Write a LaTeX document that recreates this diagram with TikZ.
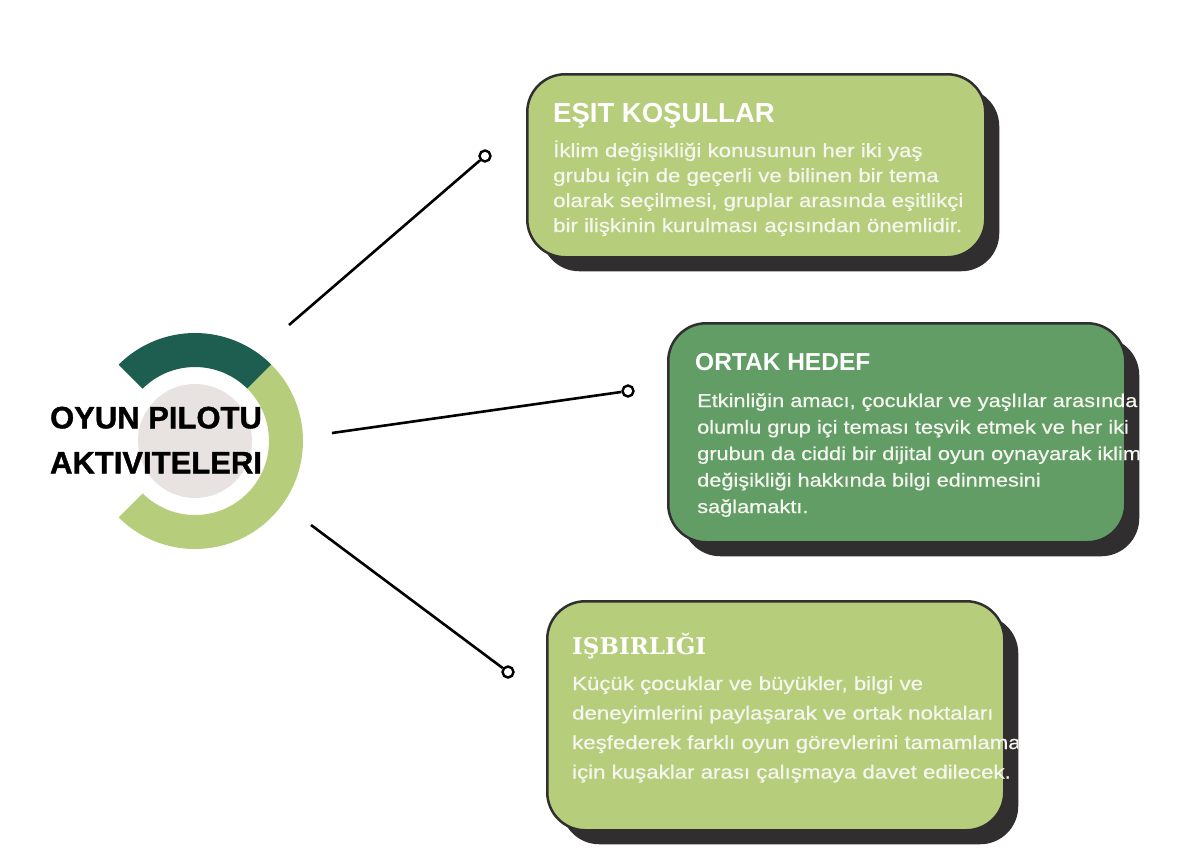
\documentclass[tikz,border=0pt]{standalone}
\usepackage{fontspec}
\setmainfont{Liberation Sans}
\newfontfamily\bodyfont[FakeStretch=1.17,FakeBold=0.6]{Liberation Sans}
\newfontfamily\headfont{Liberation Sans}
\newfontfamily\centerfont[FakeBold=1.2]{Liberation Sans}
\newfontfamily\slabfont{DejaVu Serif}
\usetikzlibrary{shadows}
\definecolor{lightg}{HTML}{B6CE7B}
\definecolor{darkg}{HTML}{1D5E50}
\definecolor{midg}{HTML}{629D66}
\definecolor{shad}{HTML}{302E2F}
\definecolor{ringgray}{HTML}{E8E2E1}
\definecolor{bodytext}{HTML}{F6F6F0}
\tikzset{
  card/.style={draw=shad, line width=2.5pt, rounded corners=38pt, anchor=north west, inner sep=0pt,
    drop shadow={shadow xshift=14pt, shadow yshift=-14pt, fill=shad, opacity=1}},
  cardtitle/.style={anchor=base west, inner sep=0pt, text=white, font=\headfont\bfseries\fontsize{27.5}{30}\selectfont},
  cardbody/.style={anchor=base west, inner sep=0pt, align=left, text=bodytext},
  link/.style={line width=2.6pt, black},
  enddot/.style={circle, draw=black, line width=2.4pt, fill=white, minimum size=11pt, inner sep=0pt},
  centertext/.style={font=\centerfont\bfseries\fontsize{31}{45}\selectfont, align=center, text=black, inner sep=0pt}
}
\begin{document}
\begin{tikzpicture}[x=1pt,y=-1pt]
\useasboundingbox[fill=white] (0,0) rectangle (1182,852);
% ring
\coordinate (c) at (195,441);
\fill[darkg] ([shift={(-135:108)}]c) arc[start angle=-135, end angle=-45, radius=108]
  -- ([shift={(-45:74)}]c) arc[start angle=-45, end angle=-135, radius=74] -- cycle;
\fill[lightg] ([shift={(-45:108)}]c) arc[start angle=-45, end angle=135, radius=108]
  -- ([shift={(135:74)}]c) arc[start angle=135, end angle=-45, radius=74] -- cycle;
\fill[ringgray] (c) circle[radius=57];
\node[centertext] (center) at (156,440) {OYUN PILOTU\\AKTIVITELERI};
% boxes
\node[card, fill=lightg, minimum width=458pt, minimum height=183pt] (b1) at (526,73) {};
\node[card, fill=midg, minimum width=457pt, minimum height=219pt] (b2) at (667,322) {};
\node[card, fill=lightg, minimum width=457pt, minimum height=229pt] (b3) at (546,600) {};
% titles
\node[cardtitle] (t1) at (553,122) {EŞIT KOŞULLAR};
\node[cardtitle, font=\headfont\bfseries\fontsize{24.5}{28}\selectfont] (t2) at (695,370) {ORTAK HEDEF};
\node[cardtitle, font=\slabfont\bfseries\fontsize{23}{28}\selectfont] (t3) at (572,654) {IŞBIRLIĞI};
% bodies (base anchor = last line baseline)
\node[cardbody, font=\bodyfont\fontsize{19}{25}\selectfont] (x1) at (553,232)
 {İklim değişikliği konusunun her iki yaş\\grubu için de geçerli ve bilinen bir tema\\olarak seçilmesi, gruplar arasında eşitlikçi\\bir ilişkinin kurulması açısından önemlidir.};
\begin{scope}
\clip (600,300) rectangle (1141,600);
\node[cardbody, font=\bodyfont\fontsize{18.6}{26.5}\selectfont] (x2) at (697,513)
 {Etkinliğin amacı, çocuklar ve yaşlılar arasında\\olumlu grup içi teması teşvik etmek ve her iki\\grubun da ciddi bir dijital oyun oynayarak iklim\\değişikliği hakkında bilgi edinmesini\\sağlamaktı.};
\end{scope}
\begin{scope}
\clip (540,590) rectangle (1018,852);
\node[cardbody, font=\bodyfont\fontsize{19}{29.5}\selectfont] (x3) at (572,778.5)
 {Küçük çocuklar ve büyükler, bilgi ve\\deneyimlerini paylaşarak ve ortak noktaları\\keşfederek farklı oyun görevlerini tamamlamak\\için kuşaklar arası çalışmaya davet edilecek.};
\end{scope}
% connectors
\coordinate (s1) at (289,325);
\coordinate (s2) at (332,433);
\coordinate (s3) at (311,525);
\node[enddot] (d1) at (485,156) {};
\node[enddot] (d2) at (628,391) {};
\node[enddot] (d3) at (508,672) {};
\draw[link] (s1) -- (d1);
\draw[link] (s2) -- (d2);
\draw[link] (s3) -- (d3);
\end{tikzpicture}
\end{document}
